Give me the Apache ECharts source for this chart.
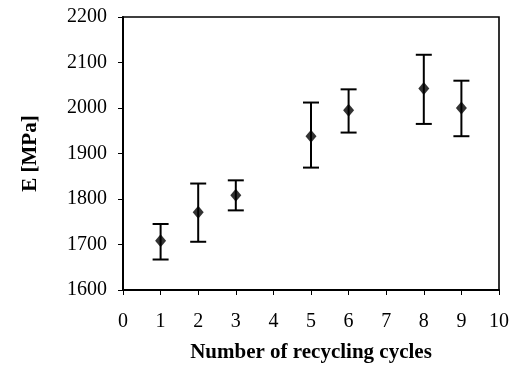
<!DOCTYPE html>
<html>
<head>
<meta charset="utf-8">
<script src="https://cdn.jsdelivr.net/npm/echarts@6/dist/echarts.min.js"></script>
<style>
  html, body { margin: 0; padding: 0; background: #fff; }
  #chart { width: 516px; height: 368px; }
</style>
</head>
<body>
<div id="chart"></div>
<script>
// recycling cycles vs. modulus E, with error bars
const cycles = [1, 2, 3, 5, 6, 8, 9]
const modulus = [1708, 1771, 1808, 1938, 1995, 2043, 2000]
const errLow = [1667, 1706, 1775, 1869, 1946, 1965, 1938]
const errHigh = [1745, 1834, 1841, 2012, 2041, 2117, 2060]

const FONT = '"Liberation Serif", "DejaVu Serif", serif'

const chart = echarts.init(document.getElementById('chart'))

const points = cycles.map((c, i) => [c, modulus[i]])
const bars = cycles.map((c, i) => [c, errLow[i], errHigh[i]])

const option = {
  animation: false,
  grid: {
    left: 123, right: 17, top: 17, bottom: 78,
    show: true,
    borderColor: '#000',
    borderWidth: 1.6
  },
  xAxis: {
    type: 'value',
    min: 0, max: 10, interval: 1,
    name: 'Number of recycling cycles',
    nameLocation: 'middle',
    nameGap: 52,
    nameTextStyle: { fontFamily: FONT, fontWeight: 'bold', fontSize: 21, color: '#000' },
    axisLine: { onZero: false, lineStyle: { color: '#000', width: 2 } },
    axisTick: { inside: false, length: 5, lineStyle: { color: '#000', width: 1 } },
    axisLabel: { margin: 22, fontFamily: FONT, fontSize: 20, color: '#000', formatter: v => String(v) },
    splitLine: { show: false }
  },
  yAxis: {
    type: 'value',
    min: 1600, max: 2200, interval: 100,
    name: 'E [MPa]',
    nameLocation: 'middle',
    nameGap: 82,
    nameTextStyle: { fontFamily: FONT, fontWeight: 'bold', fontSize: 21, color: '#000' },
    axisLine: { lineStyle: { color: '#000', width: 2 } },
    axisTick: { inside: false, length: 5, lineStyle: { color: '#000', width: 1 } },
    axisLabel: { margin: 16, fontFamily: FONT, fontSize: 20, color: '#000', formatter: v => String(v) },
    splitLine: { show: false }
  },
  series: [
    {
      type: 'custom',
      data: bars,
      renderItem: (params, api) => {
        const x = api.value(0)
        const lo = api.coord([x, api.value(1)])
        const hi = api.coord([x, api.value(2)])
        const hw = 8
        const style = { stroke: '#000', lineWidth: 2 }
        return {
          type: 'group',
          children: [
            { type: 'line', shape: { x1: lo[0], y1: lo[1], x2: hi[0], y2: hi[1] }, style },
            { type: 'line', shape: { x1: hi[0] - hw, y1: hi[1], x2: hi[0] + hw, y2: hi[1] }, style },
            { type: 'line', shape: { x1: lo[0] - hw, y1: lo[1], x2: lo[0] + hw, y2: lo[1] }, style }
          ]
        }
      },
      z: 2
    },
    {
      type: 'scatter',
      data: points,
      symbol: 'diamond',
      symbolSize: [11, 13],
      itemStyle: { color: '#000' },
      z: 3
    }
  ]
}

chart.setOption(option)
</script>
</body>
</html>
